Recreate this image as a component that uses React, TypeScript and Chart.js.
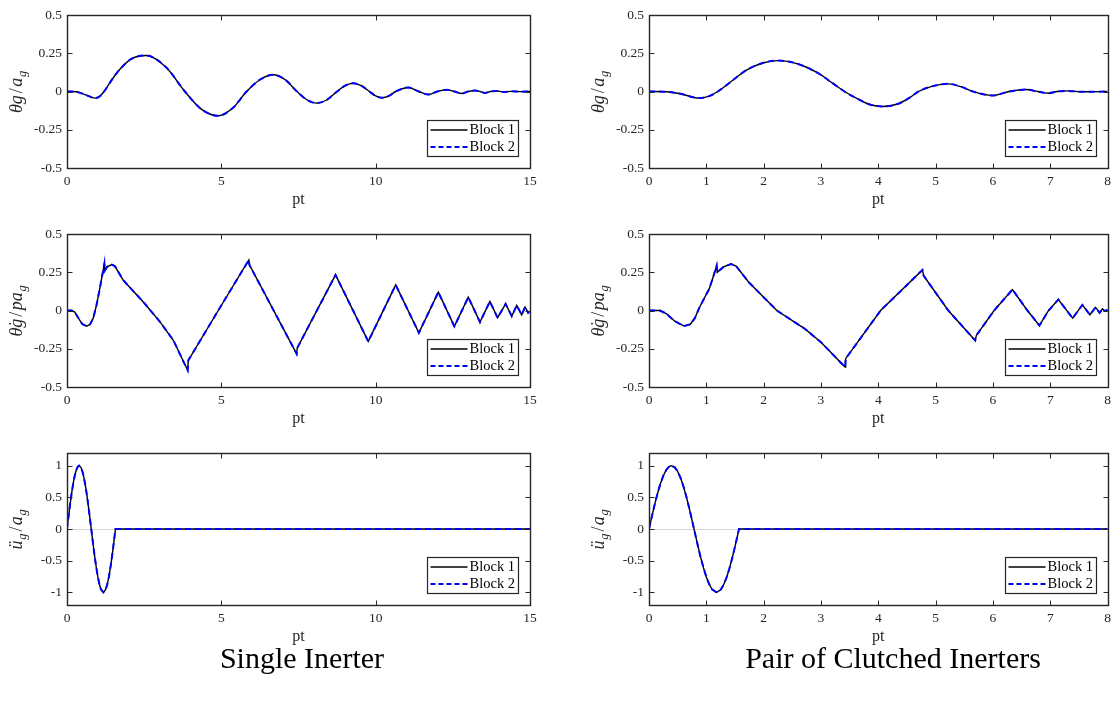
import React, { useEffect, useRef } from "react";
import { Chart, registerables } from "chart.js";

Chart.register(...registerables);

// ---------------- data ----------------
const seriesLabels = ["Block 1", "Block 2"];
const captions = ["Single Inerter", "Pair of Clutched Inerters"];
const xLabel = "pt";

const singleXTicks = [0, 5, 10, 15];
const singleXTickLabels = ["0", "5", "10", "15"];
const pairXTicks = [0, 1, 2, 3, 4, 5, 6, 7, 8];
const pairXTickLabels = ["0", "1", "2", "3", "4", "5", "6", "7", "8"];
const respYTicks = [-0.5, -0.25, 0, 0.25, 0.5];
const respYTickLabels = ["-0.5", "-0.25", "0", "0.25", "0.5"];
const groundYTicks = [-1, -0.5, 0, 0.5, 1];
const groundYTickLabels = ["-1", "-0.5", "0", "0.5", "1"];

// Single inerter: rotation response
const singleAngleT = [0, 0.3, 0.6, 0.91, 1.07, 1.2, 1.5, 1.77, 2.1, 2.56, 3.2, 3.82, 4.35, 4.9, 5.36, 5.82, 6.25, 6.68, 7.07, 7.45, 7.77, 8.09, 8.42, 8.75, 9.01, 9.27, 9.53, 9.8, 10.0, 10.21, 10.43, 10.65, 11.06, 11.4, 11.71, 12.0, 12.3, 12.55, 12.79, 13.0, 13.22, 13.38, 13.54, 13.72, 13.92, 14.15, 14.4, 14.7, 15];
const singleAngleY = [0, -0.002, -0.022, -0.043, -0.03, 0, 0.09, 0.158, 0.215, 0.235, 0.16, 0, -0.115, -0.159, -0.11, 0, 0.077, 0.109, 0.077, 0, -0.054, -0.076, -0.054, 0, 0.038, 0.054, 0.038, 0, -0.029, -0.041, -0.029, 0, 0.026, 0, -0.02, 0, 0.011, 0, -0.013, 0, 0.0065, 0, -0.009, 0, 0.004, -0.003, 0.001, -0.001, 0];

// Single inerter: rotation velocity
const singleVelT = [0, 0.15, 0.25, 0.4, 0.5, 0.64, 0.75, 0.85, 0.95, 1.05, 1.15, 1.21, 1.22, 1.3, 1.45, 1.55, 1.83, 2.48, 3.02, 3.45, 3.78, 3.91, 3.93, 4.9, 5.89, 5.91, 7.44, 7.46, 8.7, 9.76, 10.65, 11.4, 12.03, 12.55, 13.0, 13.38, 13.7, 13.95, 14.21, 14.41, 14.57, 14.73, 14.84, 14.94, 15];
const singleVelY = [0, 0, -0.01, -0.06, -0.09, -0.102, -0.09, -0.05, 0.03, 0.13, 0.24, 0.305, 0.26, 0.285, 0.3, 0.29, 0.196, 0.054, -0.076, -0.196, -0.337, -0.39, -0.326, 0, 0.33, 0.298, -0.283, -0.245, 0.233, -0.202, 0.167, -0.146, 0.12, -0.104, 0.087, -0.076, 0.059, -0.047, 0.043, -0.037, 0.033, -0.028, 0.022, -0.015, -0.005];

// Pair of clutched inerters: rotation response
const pairAngleT = [0, 0.3, 0.55, 0.87, 1.05, 1.2, 1.45, 1.7, 2.0, 2.26, 2.6, 2.95, 3.2, 3.41, 3.65, 3.85, 4.07, 4.35, 4.55, 4.7, 4.95, 5.22, 5.45, 5.65, 5.99, 6.28, 6.57, 6.78, 6.97, 7.12, 7.3, 7.55, 8];
const pairAngleY = [0, -0.002, -0.015, -0.043, -0.03, 0, 0.07, 0.14, 0.188, 0.202, 0.18, 0.12, 0.055, 0, -0.05, -0.085, -0.098, -0.08, -0.04, 0, 0.035, 0.05, 0.03, 0, -0.026, 0, 0.013, 0, -0.011, 0, 0.004, -0.002, 0];

// Pair of clutched inerters: rotation velocity
const pairVelT = [0, 0.19, 0.3, 0.45, 0.61, 0.72, 0.8, 0.88, 0.95, 1.05, 1.12, 1.18, 1.19, 1.3, 1.43, 1.52, 1.74, 2.23, 2.72, 3.0, 3.42, 3.43, 4.04, 4.77, 4.79, 5.22, 5.69, 5.71, 6.02, 6.34, 6.6, 6.81, 6.97, 7.14, 7.39, 7.56, 7.69, 7.79, 7.86, 7.91, 7.95, 8];
const pairVelY = [0, 0, -0.02, -0.07, -0.102, -0.09, -0.05, 0.02, 0.07, 0.141, 0.22, 0.293, 0.25, 0.285, 0.304, 0.29, 0.185, 0, -0.12, -0.207, -0.37, -0.315, 0, 0.265, 0.228, 0, -0.196, -0.163, 0, 0.137, 0, -0.098, 0, 0.072, -0.05, 0.037, -0.028, 0.02, -0.015, 0.011, -0.004, 0.005];

// Ground acceleration pulse
const groundSingleT = [0, 0.05, 0.1, 0.15, 0.2, 0.25, 0.3, 0.35, 0.39, 0.45, 0.5, 0.55, 0.6, 0.65, 0.7, 0.75, 0.8, 0.85, 0.9, 0.95, 1.0, 1.05, 1.1, 1.18, 1.25, 1.3, 1.35, 1.4, 1.45, 1.5, 1.57, 15];
const groundSingleY = [0, 0.199, 0.389, 0.565, 0.717, 0.841, 0.932, 0.985, 1.0, 0.974, 0.909, 0.808, 0.675, 0.516, 0.335, 0.141, -0.058, -0.256, -0.443, -0.612, -0.757, -0.872, -0.952, -1.0, -0.959, -0.883, -0.773, -0.631, -0.465, -0.279, 0, 0];
const groundPairT = [0, 0.05, 0.1, 0.15, 0.2, 0.25, 0.3, 0.35, 0.39, 0.45, 0.5, 0.55, 0.6, 0.65, 0.7, 0.75, 0.8, 0.85, 0.9, 0.95, 1.0, 1.05, 1.1, 1.18, 1.25, 1.3, 1.35, 1.4, 1.45, 1.5, 1.57, 8];
const groundPairY = [0, 0.199, 0.389, 0.565, 0.717, 0.841, 0.932, 0.985, 1.0, 0.974, 0.909, 0.808, 0.675, 0.516, 0.335, 0.141, -0.058, -0.256, -0.443, -0.612, -0.757, -0.872, -0.952, -1.0, -0.959, -0.883, -0.773, -0.631, -0.465, -0.279, 0, 0];

// y-axis titles (pieces: text, kind)
type Piece = { t: string; k: "i" | "r" | "s" };
const angleTitle: Piece[] = [{ t: "θg", k: "i" }, { t: "/", k: "r" }, { t: "a", k: "i" }, { t: "g", k: "s" }];
const velTitle: Piece[] = [{ t: "θ\u0307g", k: "i" }, { t: "/", k: "r" }, { t: "pa", k: "i" }, { t: "g", k: "s" }];
const groundTitle: Piece[] = [{ t: "ü", k: "i" }, { t: "g", k: "s" }, { t: "/", k: "r" }, { t: "a", k: "i" }, { t: "g", k: "s" }];

// ---------------- styling / layout ----------------
const FONT = "'Liberation Serif', 'Times New Roman', serif";
const AX = "#262626";

type PanelDef = {
  left: number; top: number; width: number; height: number; padRight: number;
  t: number[]; y: number[]; xMax: number; xTicks: number[]; xTickLabels: string[];
  yMin: number; yMax: number; yTicks: number[]; yTickLabels: string[];
  title: Piece[]; smooth: boolean; zeroLine: boolean;
};

const COL_L = { left: 0, width: 545, padRight: 15 };
const COL_R = { left: 582, width: 534, padRight: 3 };
const ROWS = [
  { top: 0, height: 210 },
  { top: 219, height: 210 },
  { top: 438, height: 209 },
];
const Y_AXIS_W = 67;
const X_AXIS_H = 42;
const PAD_TOP = 15;

const panels: PanelDef[] = [
  { ...COL_L, ...ROWS[0], t: singleAngleT, y: singleAngleY, xMax: 15, xTicks: singleXTicks, xTickLabels: singleXTickLabels, yMin: -0.5, yMax: 0.5, yTicks: respYTicks, yTickLabels: respYTickLabels, title: angleTitle, smooth: true, zeroLine: false },
  { ...COL_R, ...ROWS[0], t: pairAngleT, y: pairAngleY, xMax: 8, xTicks: pairXTicks, xTickLabels: pairXTickLabels, yMin: -0.5, yMax: 0.5, yTicks: respYTicks, yTickLabels: respYTickLabels, title: angleTitle, smooth: true, zeroLine: false },
  { ...COL_L, ...ROWS[1], t: singleVelT, y: singleVelY, xMax: 15, xTicks: singleXTicks, xTickLabels: singleXTickLabels, yMin: -0.5, yMax: 0.5, yTicks: respYTicks, yTickLabels: respYTickLabels, title: velTitle, smooth: false, zeroLine: false },
  { ...COL_R, ...ROWS[1], t: pairVelT, y: pairVelY, xMax: 8, xTicks: pairXTicks, xTickLabels: pairXTickLabels, yMin: -0.5, yMax: 0.5, yTicks: respYTicks, yTickLabels: respYTickLabels, title: velTitle, smooth: false, zeroLine: false },
  { ...COL_L, ...ROWS[2], t: groundSingleT, y: groundSingleY, xMax: 15, xTicks: singleXTicks, xTickLabels: singleXTickLabels, yMin: -1.2, yMax: 1.2, yTicks: groundYTicks, yTickLabels: groundYTickLabels, title: groundTitle, smooth: false, zeroLine: true },
  { ...COL_R, ...ROWS[2], t: groundPairT, y: groundPairY, xMax: 8, xTicks: pairXTicks, xTickLabels: pairXTickLabels, yMin: -1.2, yMax: 1.2, yTicks: groundYTicks, yTickLabels: groundYTickLabels, title: groundTitle, smooth: false, zeroLine: true },
];

function line(ctx: CanvasRenderingContext2D, x1: number, y1: number, x2: number, y2: number) {
  ctx.beginPath();
  ctx.moveTo(x1, y1);
  ctx.lineTo(x2, y2);
  ctx.stroke();
}

function makeDecorPlugin(p: PanelDef) {
  return {
    id: "decor",
    beforeDatasetsDraw(chart: any) {
      if (!p.zeroLine) return;
      const { ctx, chartArea: a, scales } = chart;
      const y0 = Math.round(scales.y.getPixelForValue(0)) + 0.5;
      ctx.save();
      ctx.strokeStyle = "#d6d6d6";
      ctx.lineWidth = 1;
      line(ctx, a.left, y0, a.right, y0);
      ctx.restore();
    },
    afterDraw(chart: any) {
      const { ctx, chartArea: a, scales } = chart;
      ctx.save();
      ctx.strokeStyle = AX;
      ctx.lineWidth = 1;
      const L = Math.round(a.left) + 0.5, R = Math.round(a.right) + 0.5;
      const T = Math.round(a.top) + 0.5, B = Math.round(a.bottom) + 0.5;
      const tl = 5;
      for (const tk of scales.x.ticks) {
        const px = Math.round(scales.x.getPixelForValue(tk.value)) + 0.5;
        line(ctx, px, T, px, T + tl);
        line(ctx, px, B, px, B - tl);
      }
      for (const tk of scales.y.ticks) {
        const py = Math.round(scales.y.getPixelForValue(tk.value)) + 0.5;
        line(ctx, L, py, L + tl, py);
        line(ctx, R, py, R - tl, py);
      }
      ctx.lineWidth = 1.4;
      ctx.strokeRect(L, T, R - L, B - T);

      // legend
      const bw = 91, bh = 36, gap = 12;
      const bx = Math.round(a.right - gap - bw) + 0.5;
      const by = Math.round(a.bottom - gap - bh) + 0.5;
      ctx.fillStyle = "#ffffff";
      ctx.fillRect(bx, by, bw, bh);
      ctx.lineWidth = 1.2;
      ctx.strokeStyle = AX;
      ctx.strokeRect(bx, by, bw, bh);
      const rows = [by + 9.5, by + 26.5];
      const styles = [
        { c: "#000000", w: 1.4, d: [] as number[] },
        { c: "#0000ff", w: 2, d: [5, 3] },
      ];
      for (let i = 0; i < 2; i++) {
        ctx.save();
        ctx.strokeStyle = styles[i].c;
        ctx.lineWidth = styles[i].w;
        ctx.setLineDash(styles[i].d);
        line(ctx, bx + 3, rows[i], bx + 40, rows[i]);
        ctx.restore();
        ctx.fillStyle = "#000000";
        ctx.font = `14.5px ${FONT}`;
        ctx.textBaseline = "middle";
        ctx.textAlign = "left";
        ctx.fillText(seriesLabels[i], bx + 42, rows[i] + 0.5);
      }

      // y-axis title (rich text, rotated)
      const fMain = 18, fSub = 12.5;
      const fontFor = (k: string) =>
        k === "s" ? `italic ${fSub}px ${FONT}` : k === "i" ? `italic ${fMain}px ${FONT}` : `${fMain}px ${FONT}`;
      let total = 0;
      const widths: number[] = [];
      for (const pc of p.title) {
        ctx.font = fontFor(pc.k);
        const w = ctx.measureText(pc.t).width + (pc.k === "r" ? 2.5 : 0.8);
        widths.push(w);
        total += w;
      }
      ctx.translate(a.left - 51, (a.top + a.bottom) / 2);
      ctx.rotate(-Math.PI / 2);
      ctx.fillStyle = AX;
      ctx.textBaseline = "alphabetic";
      ctx.textAlign = "left";
      let x = -total / 2;
      p.title.forEach((pc, i) => {
        ctx.font = fontFor(pc.k);
        ctx.fillText(pc.t, x + (pc.k === "r" ? 1.2 : 0), pc.k === "s" ? 9.5 : 5.5);
        x += widths[i];
      });
      ctx.restore();
    },
  };
}

function Panel({ p }: { p: PanelDef }) {
  const ref = useRef<HTMLCanvasElement>(null);
  useEffect(() => {
    const pts = p.t.map((t, i) => ({ x: t, y: p.y[i] }));
    const interp = p.smooth ? { cubicInterpolationMode: "monotone" as const } : { tension: 0 };
    const chart = new Chart(ref.current as HTMLCanvasElement, {
      type: "line",
      data: {
        datasets: [
          { label: seriesLabels[0], data: pts, borderColor: "#000000", borderWidth: 1.4, pointRadius: 0, fill: false, order: 2, ...interp },
          { label: seriesLabels[1], data: pts, borderColor: "#0000ff", borderWidth: 2, borderDash: [6, 4], pointRadius: 0, fill: false, order: 1, ...interp },
        ],
      },
      options: {
        animation: false,
        responsive: false,
        devicePixelRatio: 1,
        events: [],
        layout: { padding: { top: PAD_TOP, right: p.padRight, left: 0, bottom: 0 } },
        plugins: { legend: { display: false }, tooltip: { enabled: false }, title: { display: false } },
        scales: {
          x: {
            type: "linear",
            min: 0,
            max: p.xMax,
            afterBuildTicks: (s: any) => { s.ticks = p.xTicks.map((v) => ({ value: v })); },
            afterFit: (s: any) => { s.height = X_AXIS_H; },
            ticks: {
              autoSkip: false,
              maxRotation: 0,
              padding: 5,
              color: AX,
              font: { family: FONT, size: 13.5 },
              callback: (_v: any, i: number) => p.xTickLabels[i],
            },
            grid: { display: false, drawTicks: false },
            border: { display: false },
            title: { display: true, text: xLabel, color: AX, font: { family: FONT, size: 16 }, padding: { top: 0, bottom: 1 } },
          },
          y: {
            type: "linear",
            min: p.yMin,
            max: p.yMax,
            afterBuildTicks: (s: any) => { s.ticks = p.yTicks.map((v) => ({ value: v })); },
            afterFit: (s: any) => { s.width = Y_AXIS_W; },
            ticks: {
              autoSkip: false,
              padding: 5,
              color: AX,
              font: { family: FONT, size: 13.5 },
              callback: (_v: any, i: number) => p.yTickLabels[i],
            },
            grid: { display: false, drawTicks: false },
            border: { display: false },
          },
        },
      },
      plugins: [makeDecorPlugin(p)],
    } as any);
    return () => chart.destroy();
  }, [p]);
  return (
    <canvas
      ref={ref}
      width={p.width}
      height={p.height}
      style={{ position: "absolute", left: p.left, top: p.top, width: p.width, height: p.height }}
    />
  );
}

const captionStyle: React.CSSProperties = {
  position: "absolute",
  width: 500,
  top: 637,
  textAlign: "center",
  fontFamily: FONT,
  fontSize: 30,
  color: "#000",
  lineHeight: "42px",
  whiteSpace: "nowrap",
};

export default function App() {
  return (
    <div style={{ position: "absolute", left: 0, top: 0, width: 1116, height: 700, background: "#ffffff", overflow: "hidden" }}>
      {panels.map((p, i) => (
        <Panel key={i} p={p} />
      ))}
      <div style={{ ...captionStyle, left: 52 }}>{captions[0]}</div>
      <div style={{ ...captionStyle, left: 643 }}>{captions[1]}</div>
    </div>
  );
}
